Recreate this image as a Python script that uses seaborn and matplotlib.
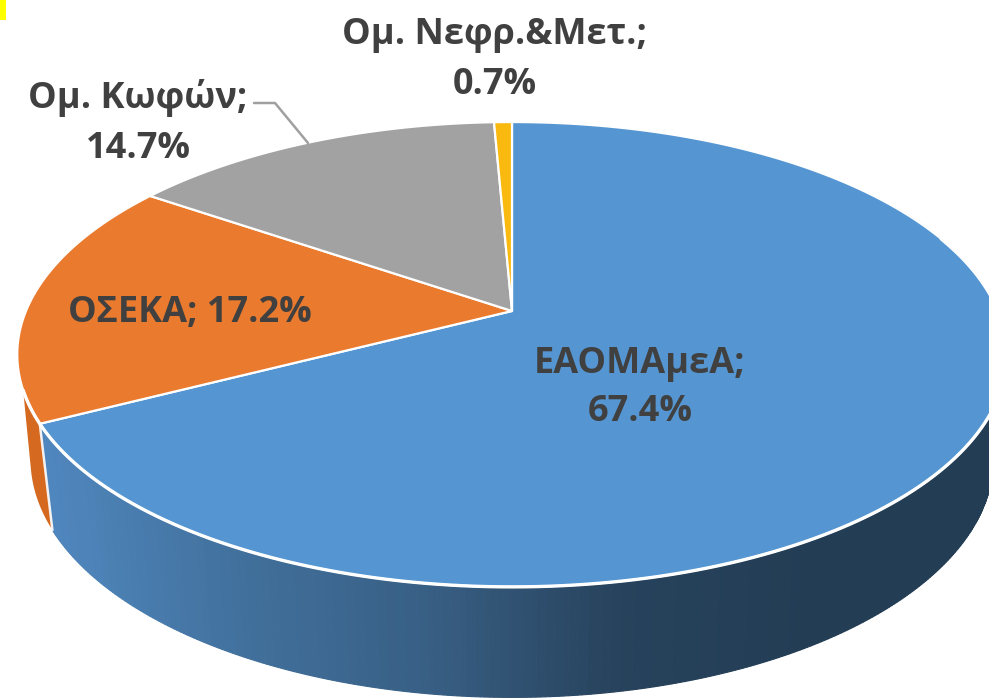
import numpy as np
import seaborn as sns
from matplotlib import pyplot as plt

# данные
names = ['ΕΑΟΜΑμεΑ', 'ΟΣΕΚΑ', 'Ομ. Κωφών', 'Ομ. Νεφρ.&Μετ.']
values = [67.4, 17.2, 14.7, 0.7]

sns.set_theme(style='white')
plt.rcParams['font.family'] = ['Open Sans', 'DejaVu Sans']
colors = sns.color_palette(['#5596d2', '#e97a2e', '#a2a2a2', '#f9b90f'])
side_ramp = sns.blend_palette(['#4f86bd', '#41709c', '#385f84', '#27425c', '#223d54', '#223d54'], 120)
text_color = '#404040'

# геометрия псевдо-3D круга (в пикселях картинки)
cx, cy = 512, 311
persp = 0.187
top_a, top_b = 486, 224.3
low_a, low_b, low_dy = 473, 230, 103.5


def rim(deg, a, b, dy=0):
    t = np.radians(deg)
    w = 1 + persp * np.cos(t)
    return cx + a * np.sin(t) / w, cy + dy - b * np.cos(t) / w


fig = plt.figure(figsize=(9.89, 6.98), dpi=100)
ax = fig.add_axes([0, 0, 1, 1])
ax.set_xlim(0, 989)
ax.set_ylim(698, 0)
ax.axis('off')

stops = np.concatenate([[0], np.cumsum(values)]) * 360 / sum(values)

# боковая стенка синего сектора, градиент по x
edges = np.linspace(60, stops[1], 400)
for a0, a1 in zip(edges[:-1], edges[1:]):
    x0, y0 = rim(a0, top_a, top_b)
    x1, y1 = rim(a1, top_a, top_b)
    x2, y2 = rim(a1, low_a, low_b, low_dy)
    x3, y3 = rim(a0, low_a, low_b, low_dy)
    pos = np.clip((min(x0, x1, x2, x3) - 42) / 947, 0, 1)
    col = side_ramp[int(pos * 119)]
    ax.fill([x0, x1, x2, x3], [y0, y1, y2, y3], color=col, lw=0.8, zorder=1)

# боковая стенка оранжевого сектора
side_top = np.linspace(stops[1], stops[1] + 8, 30)
side_low = np.linspace(stops[1] + 14, stops[1], 30)
tx, ty = rim(side_top, top_a, top_b)
lx, ly = rim(side_low, low_a, low_b, low_dy)
ax.fill(np.r_[tx, lx], np.r_[ty, ly], color='#d4691f', lw=0, zorder=1)

# белая линия между стенками
ex0, ey0 = rim(stops[1], top_a, top_b)
ex1, ey1 = rim(stops[1], low_a, low_b, low_dy)
ax.plot([ex0, ex1], [ey0, ey1], color='white', lw=1.8, alpha=0.9, zorder=2)

# верхняя грань
for i in range(len(values)):
    arc = np.linspace(stops[i], stops[i + 1], 200)
    px, py = rim(arc, top_a, top_b)
    ax.fill(np.r_[cx, px], np.r_[cy, py], facecolor=colors[i], edgecolor='white',
            lw=1.6, joinstyle='round', zorder=3)

# передний край светлее и толще
front = np.linspace(70, stops[1] + 8, 300)
fx, fy = rim(front, top_a, top_b)
ax.plot(fx, fy, color='white', lw=2.4, zorder=4)

# подписи
label_style = dict(ha='center', va='center', fontsize=26, fontweight='bold',
                   color=text_color, zorder=5)
ax.text(640, 388, f'{names[0]};\n{values[0]}%', linespacing=1.45, **label_style)
ax.text(190, 313, f'{names[1]}; {values[1]}%', **label_style)
ax.text(138, 123, f'{names[2]};\n{values[2]}%', linespacing=1.52, **label_style)
ax.text(495, 60, f'{names[3]};\n{values[3]}%', linespacing=1.52, **label_style)

# выноска и жёлтый угол
ax.plot([254, 275, 308], [103, 103, 143], color='#a0a0a0', lw=1.8, zorder=4)
ax.fill([0, 6, 6, 0], [0, 0, 20, 20], color='#ffff00', lw=0, zorder=4)

fig.savefig('out.png', dpi=100)
